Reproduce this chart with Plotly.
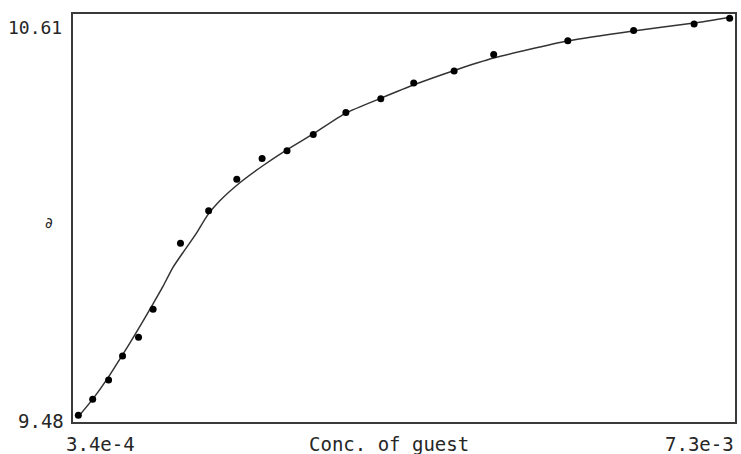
import plotly.graph_objects as go

# Observed data points (concentration of guest, chemical shift)
conc_obs = [3.96e-4, 5.47e-4, 7.14e-4, 8.61e-4, 1.029e-3, 1.182e-3, 1.470e-3,
            1.766e-3, 2.062e-3, 2.328e-3, 2.590e-3, 2.866e-3, 3.209e-3, 3.576e-3,
            3.922e-3, 4.347e-3, 4.763e-3, 5.542e-3, 6.234e-3, 6.870e-3, 7.244e-3]
delta_obs = [9.499, 9.543, 9.596, 9.663, 9.715, 9.792, 9.975,
             10.065, 10.152, 10.210, 10.231, 10.276, 10.337, 10.375,
             10.419, 10.452, 10.498, 10.536, 10.564, 10.582, 10.598]

# Fitted curve
conc_fit = [4.03e-4, 5.50e-4, 7.07e-4, 8.54e-4, 9.90e-4, 1.168e-3, 1.283e-3,
            1.388e-3, 1.493e-3, 1.640e-3, 1.755e-3, 1.881e-3, 2.091e-3, 2.332e-3,
            2.583e-3, 2.866e-3, 3.212e-3, 3.579e-3, 3.946e-3, 4.365e-3, 4.763e-3,
            5.539e-3, 6.231e-3, 6.870e-3, 7.258e-3]
delta_fit = [9.497, 9.544, 9.602, 9.663, 9.721, 9.801, 9.854,
             9.907, 9.948, 10.004, 10.053, 10.092, 10.142, 10.189,
             10.233, 10.278, 10.336, 10.377, 10.416, 10.455, 10.488,
             10.535, 10.563, 10.585, 10.602]

x_range = [3.4e-4, 7.3e-3]
y_range = [9.48, 10.61]
x_tick_labels = ["3.4e-4", "7.3e-3"]
y_tick_labels = ["9.48", "10.61"]
x_title = "Conc. of guest"
y_title = "∂"

FONT = "DejaVu Sans Mono"
TXT = "#262626"

fig = go.Figure()
fig.add_trace(go.Scatter(x=conc_fit, y=delta_fit, mode="lines",
                         line=dict(color="#333333", width=1.5, shape="spline", smoothing=0.6),
                         hoverinfo="skip"))
fig.add_trace(go.Scatter(x=conc_obs, y=delta_obs, mode="markers",
                         marker=dict(color="black", size=7, symbol="circle")))

axis_common = dict(showgrid=False, zeroline=False, showticklabels=False, ticks="",
                   showline=True, mirror=True, linecolor="#3a3a3a", linewidth=2)
fig.update_xaxes(range=x_range, **axis_common)
fig.update_yaxes(range=y_range, **axis_common)

ann = []
font = dict(family=FONT, size=19, color=TXT)
ann.append(dict(text=y_tick_labels[1], x=0, xanchor="right", xshift=-9,
                y=0.968, yanchor="middle", font=dict(family=FONT, size=18, color=TXT)))
ann.append(dict(text=y_tick_labels[0], x=0, xanchor="right", xshift=-7,
                y=0.0025, yanchor="middle"))
ann.append(dict(text=x_tick_labels[0], x=0.042, xanchor="center",
                y=-0.054, yanchor="middle"))
ann.append(dict(text=x_tick_labels[1], x=1.0015, xanchor="right",
                y=-0.054, yanchor="middle"))
ann.append(dict(text=x_title, x=0.477, xanchor="center",
                y=-0.054, yanchor="middle"))
ann.append(dict(text=y_title, x=-0.036, xanchor="center",
                y=0.488, yanchor="middle", font=dict(family="DejaVu Sans", size=15, color=TXT)))
for a in ann:
    a.setdefault("font", font)
    a.update(xref="paper", yref="paper", showarrow=False)

fig.update_layout(width=741, height=454, showlegend=False,
                  margin=dict(l=73, r=4, t=14, b=32),
                  paper_bgcolor="white", plot_bgcolor="white",
                  annotations=ann)

fig.write_html("out.html", config={"displayModeBar": False},
               post_script="document.body.style.margin='0';document.body.style.overflow='hidden';")
